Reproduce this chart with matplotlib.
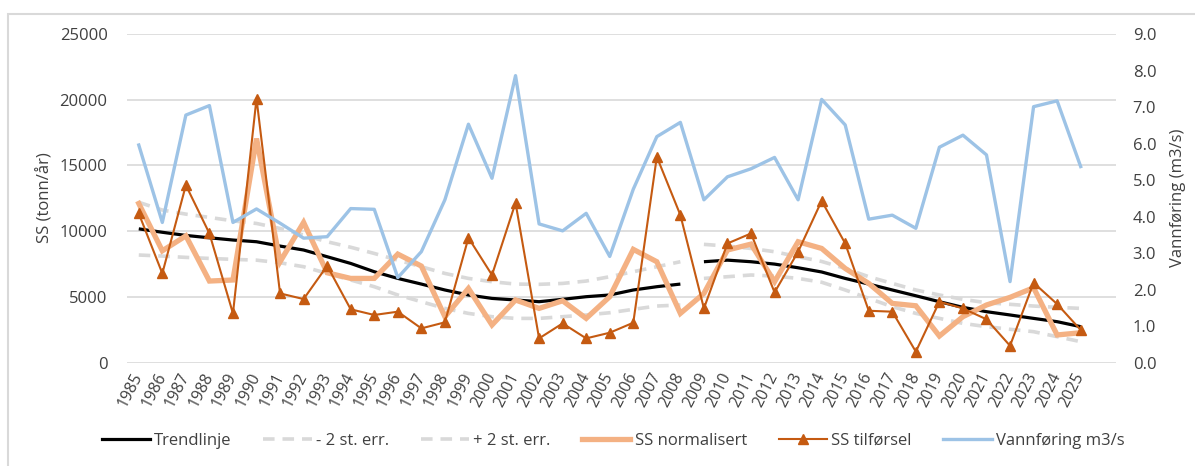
import matplotlib
matplotlib.use("Agg")
import matplotlib.pyplot as plt
from matplotlib.patches import Rectangle
from matplotlib.lines import Line2D

plt.rcParams['font.family'] = ['Open Sans', 'DejaVu Sans']

years = list(range(1985, 2026))
segments = [(1985, 2008), (2009, 2025)]

ss_tilforsel = [11350, 6790, 13500, 9830, 3750, 20090, 5270, 4840, 7370, 4060,
                3630, 3880, 2610, 3070, 9500, 6670, 12160, 1850, 2990, 1850,
                2280, 3040, 15660, 11230, 4130, 9070, 9830, 5350, 8440, 12310,
                9070, 3950, 3880, 840, 4640, 4130, 3300, 1290, 6080, 4460, 2490]
ss_norm = [12110, 8510, 9650, 6210, 6290, 17050, 7680, 10670, 6840, 6410,
           6410, 8260, 7350, 3500, 5650, 2870, 4770, 4130, 4710, 3370,
           5020, 8620, 7680, 3750, 5270, 8570, 9020, 6160, 9200, 8690,
           7170, 6030, 4510, 4330, 2030, 3500, 4390, 4970, 5700, 2110, 2280]
trend = [10180, 9920, 9680, 9500, 9330, 9200, 8870, 8570, 8060, 7550,
         6920, 6410, 5980, 5530, 5150, 4890, 4770, 4640, 4820, 5020,
         5150, 5530, 5780, 5980, 7680, 7800, 7680, 7500, 7220, 6900,
         6410, 5980, 5530, 5090, 4640, 4210, 3880, 3630, 3370, 3120, 2740]
lower = [8190, 8110, 8010, 7930, 7860, 7800, 7600, 7300, 6790, 6290,
         5780, 5150, 4640, 4130, 3750, 3500, 3370, 3370, 3500, 3630,
         3800, 4060, 4310, 4390, 6410, 6540, 6670, 6590, 6410, 6120,
         5530, 4890, 4260, 3750, 3370, 2990, 2740, 2540, 2360, 1980, 1600]
upper = [12200, 11610, 11300, 11050, 10790, 10590, 10210, 9710, 9200, 8780,
         8310, 7800, 7300, 6790, 6410, 6160, 5980, 5960, 6030, 6210,
         6540, 6920, 7300, 7680, 9000, 8870, 8690, 8440, 8060, 7700,
         7170, 6540, 6030, 5530, 5150, 4820, 4560, 4440, 4310, 4210, 4130]
vannforing = [5.96, 3.84, 6.78, 7.04, 3.84, 4.21, 3.82, 3.41, 3.45, 4.22,
              4.20, 2.33, 3.04, 4.46, 6.53, 5.05, 7.86, 3.80, 3.61, 4.09,
              2.91, 4.75, 6.19, 6.58, 4.46, 5.09, 5.31, 5.62, 4.46, 7.21,
              6.51, 3.93, 4.04, 3.68, 5.90, 6.23, 5.69, 2.22, 7.01, 7.17, 5.37]

left_ticks = [0, 5000, 10000, 15000, 20000, 25000]
right_ticks = [0, 1, 2, 3, 4, 5, 6, 7, 8, 9]

C_TREND = 'black'
C_ERR = '#d9d9d9'
C_NORM = '#f4b183'
C_TIL = '#c55a11'
C_VANN = '#9dc3e6'
C_TXT = '#404040'
FS = 12

W, H = 1195, 466
fig = plt.figure(figsize=(W / 100, H / 100), dpi=100)
ax = fig.add_axes([127 / W, 1 - 362.7 / H, (1116 - 127) / W, (362.7 - 34) / H])
ax2 = ax.twinx()

x = list(range(len(years)))

for (a, b) in segments:
    i0, i1 = years.index(a), years.index(b) + 1
    xs = x[i0:i1]
    ax.plot(xs, trend[i0:i1], color=C_TREND, lw=2.3, solid_capstyle='butt', zorder=3)
    ax.plot(xs, lower[i0:i1], color=C_ERR, lw=2.6, dashes=(3.2, 2.2), zorder=3)
    ax.plot(xs, upper[i0:i1], color=C_ERR, lw=2.6, dashes=(3.2, 2.2), zorder=3)

ax.plot(x, ss_norm, color=C_NORM, lw=3.8, zorder=4, solid_joinstyle='miter')
ax.plot(x, ss_tilforsel, color=C_TIL, lw=1.5, marker='^', markersize=7.5,
        markeredgecolor=C_TIL, markerfacecolor=C_TIL, zorder=5)
ax2.plot(x, vannforing, color=C_VANN, lw=2.4, zorder=6)

ax.set_xlim(-0.5, len(years) + 0.5)
ax.set_ylim(0, 25000)
ax2.set_ylim(0, 9)
ax.set_yticks(left_ticks)
ax.set_yticklabels([str(v) for v in left_ticks])
ax2.set_yticks(right_ticks)
ax2.set_yticklabels([f"{v:.1f}" for v in right_ticks])
ax.set_xticks(x)
ax.set_xticklabels([str(y) for y in years], rotation=63, ha='right',
                   rotation_mode='anchor', va='center')

ax.grid(axis='y', color='#d9d9d9', lw=1.2)
ax.set_axisbelow(True)
for a_ in (ax, ax2):
    for s in a_.spines.values():
        s.set_visible(False)
ax.tick_params(axis='y', length=0, pad=14, labelsize=FS, labelcolor=C_TXT)
ax.tick_params(axis='x', length=0, pad=8, labelsize=FS - 0.5, labelcolor=C_TXT)
ax2.tick_params(axis='y', length=0, pad=12, labelsize=FS, labelcolor=C_TXT)

fig.text(45 / W, 1 - 198 / H, 'SS (tonn/år)', rotation=90, ha='center', va='center',
         fontsize=FS, color=C_TXT)
fig.text(1178 / W, 1 - 198 / H, 'Vannføring (m3/s)', rotation=90, ha='center',
         va='center', fontsize=FS, color=C_TXT)

handles = [
    Line2D([], [], color=C_TREND, lw=2.3),
    Line2D([], [], color=C_ERR, lw=2.6, dashes=(3.2, 2.2)),
    Line2D([], [], color=C_ERR, lw=2.6, dashes=(3.2, 2.2)),
    Line2D([], [], color=C_NORM, lw=3.8),
    Line2D([], [], color=C_TIL, lw=1.5, marker='^', markersize=7.5),
    Line2D([], [], color=C_VANN, lw=2.4),
]
labels = ['Trendlinje', '- 2 st. err.', '+ 2 st. err.', 'SS normalisert',
          'SS tilførsel', 'Vannføring m3/s']
leg = fig.legend(handles, labels, loc='center', bbox_to_anchor=(613 / W, 1 - 441 / H),
                 ncol=6, frameon=False, fontsize=FS, handlelength=2.9,
                 handletextpad=0.25, columnspacing=1.9, labelcolor=C_TXT)

fig.patches.append(Rectangle((8 / W, -0.1), 1.2, 1.1 - 14 / H, transform=fig.transFigure,
                             fill=False, edgecolor='#d9d9d9', lw=1.5))

fig.savefig('out.png', dpi=100)
